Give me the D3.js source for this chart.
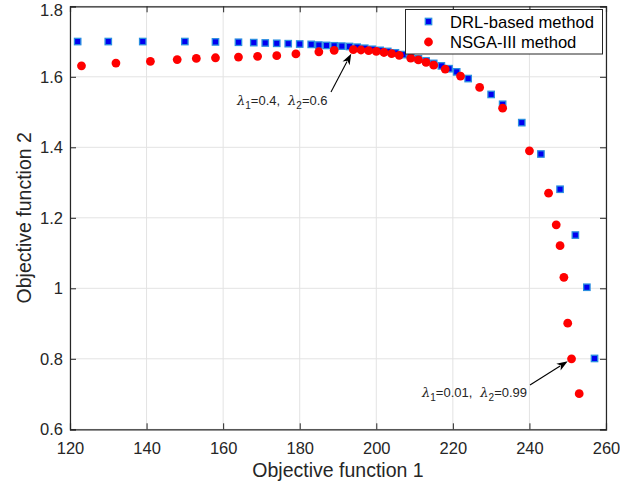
<!DOCTYPE html>
<html><head><meta charset="utf-8">
<script src="https://cdn.jsdelivr.net/npm/d3@7"></script>
<style>body{margin:0;background:#fff}svg{display:block}</style>
</head><body>
<svg id="c" width="620" height="489"></svg>
<script>
const drlX = [122,130,139,150,158,164,168,171,174,177,180,183,185,187,189,191,193,195,197,199,201,203,205,207,209,211,213,215,217,219,221,224,230,233,238,243,248,252,255,257];
const drlY = [1.700,1.700,1.700,1.700,1.699,1.698,1.697,1.696,1.695,1.694,1.693,1.692,1.690,1.689,1.688,1.687,1.686,1.684,1.681,1.678,1.675,1.672,1.668,1.663,1.657,1.651,1.645,1.638,1.631,1.623,1.614,1.595,1.550,1.522,1.470,1.381,1.281,1.151,1.003,0.801];
const nsgaX = [123,132,141,148,153,158,164,169,174,179,185,189,194,196,198,200,202,204,206,209,211,213,215,218,222,227,233,240,245,247,248,249,250,251,253];
const nsgaY = [1.631,1.639,1.644,1.649,1.652,1.654,1.656,1.658,1.660,1.665,1.671,1.675,1.677,1.676,1.674,1.672,1.669,1.666,1.661,1.653,1.648,1.641,1.633,1.622,1.602,1.570,1.511,1.390,1.270,1.180,1.121,1.031,0.901,0.800,0.701];
const xTicks = [120,140,160,180,200,220,240,260];
const yTicks = [0.6,0.8,1.0,1.2,1.4,1.6,1.8];
const seriesNames = ["DRL-based method","NSGA-III method"];
const annotations = [
  {x:194, y:1.677, l1:"0.4", l2:"0.6"},
  {x:251, y:0.800, l1:"0.01", l2:"0.99"}
];

const svg = d3.select("#c");
const L=70, R=606, T=6.3, B=429.3;
const x = d3.scaleLinear().domain([120,260]).range([L,R]);
const y = d3.scaleLinear().domain([0.6,1.8]).range([B,T]);
const font = "'Liberation Sans', Arial, Helvetica, sans-serif";
const axCol = "#262626";

// grid
const g = svg.append("g");
g.selectAll(".gx").data(xTicks).enter().append("line")
  .attr("x1",d=>x(d)).attr("x2",d=>x(d)).attr("y1",T).attr("y2",B)
  .attr("stroke","#e3e3e3").attr("stroke-width",1);
g.selectAll(".gy").data(yTicks).enter().append("line")
  .attr("y1",d=>y(d)).attr("y2",d=>y(d)).attr("x1",L).attr("x2",R)
  .attr("stroke","#e3e3e3").attr("stroke-width",1);

// axes
const fmtY = d => d===1 ? "1" : d3.format(".1f")(d);
const xAxis = svg.append("g").attr("transform",`translate(0,${B})`)
  .call(d3.axisBottom(x).tickValues(xTicks).tickSize(-6).tickPadding(13).tickFormat(d3.format("d")));
const xAxisT = svg.append("g").attr("transform",`translate(0,${T})`)
  .call(d3.axisTop(x).tickValues(xTicks).tickSize(-6).tickFormat(""));
const yAxis = svg.append("g").attr("transform",`translate(${L},0)`)
  .call(d3.axisLeft(y).tickValues(yTicks).tickSize(-6).tickPadding(7).tickFormat(fmtY));
const yAxisR = svg.append("g").attr("transform",`translate(${R},0)`)
  .call(d3.axisRight(y).tickValues(yTicks).tickSize(-6).tickFormat(""));
[xAxis,xAxisT,yAxis,yAxisR].forEach(a=>{
  a.selectAll("path").attr("stroke",axCol).attr("stroke-width",1.2);
  a.selectAll("line").attr("stroke",axCol).attr("stroke-width",1);
  a.selectAll("text").attr("fill",axCol).attr("font-size","16.5px").attr("font-family",font);
});
yAxis.selectAll("text").filter(d=>d===1.8).attr("dy","0.54em");

// labels
svg.append("text").attr("x",(L+R)/2).attr("y",477).attr("text-anchor","middle")
  .attr("font-family",font).attr("font-size","19.5px").attr("fill",axCol).text("Objective function 1");
svg.append("text").attr("transform",`translate(31,${(T+B)/2}) rotate(-90)`).attr("text-anchor","middle")
  .attr("font-family",font).attr("font-size","19.5px").attr("fill",axCol).text("Objective function 2");

// markers
const plot = svg.append("g");
plot.selectAll(".sq").data(drlX.map((d,i)=>[d,drlY[i]])).enter().append("rect")
  .attr("x",d=>x(d[0])-3.2).attr("y",d=>y(d[1])-3.2).attr("width",6.4).attr("height",6.4)
  .attr("fill","#0000f0").attr("stroke","#2a8ee0").attr("stroke-width",1.3);
plot.selectAll(".ci").data(nsgaX.map((d,i)=>[d,nsgaY[i]])).enter().append("circle")
  .attr("cx",d=>x(d[0])).attr("cy",d=>y(d[1])).attr("r",4.4)
  .attr("fill","#ff0000");

// annotations
const offs = [{tx:237,ty:105,ax:331,ay:92},{tx:422,ty:397,ax:530,ay:385}];
annotations.forEach((a,i)=>{
  const o = offs[i];
  const px = x(a.x), py = y(a.y);
  const dx = px-o.ax, dy = py-o.ay, len = Math.hypot(dx,dy);
  const ux = dx/len, uy = dy/len;
  const tipX = px - ux*4.5, tipY = py - uy*4.5;
  const hl = 11, hw = 4;
  const bx = tipX-ux*hl, by = tipY-uy*hl;
  svg.append("line").attr("x1",o.ax).attr("y1",o.ay).attr("x2",bx+ux*2).attr("y2",by+uy*2)
    .attr("stroke","#000").attr("stroke-width",1.1);
  svg.append("path").attr("d",`M${tipX},${tipY}L${bx-uy*hw},${by+ux*hw}L${bx+ux*3},${by+uy*3}L${bx+uy*hw},${by-ux*hw}Z`).attr("fill","#000");
  const t = svg.append("text").attr("x",o.tx).attr("y",o.ty).attr("font-family",font).attr("font-size","13px").attr("fill","#262626");
  t.append("tspan").attr("font-style","italic").attr("font-family","'DejaVu Serif', serif").text("λ");
  t.append("tspan").attr("font-size","10px").attr("dy",4).text("1");
  t.append("tspan").attr("dy",-4).text("="+a.l1+",");
  t.append("tspan").attr("dx",8).attr("font-style","italic").attr("font-family","'DejaVu Serif', serif").text("λ");
  t.append("tspan").attr("font-size","10px").attr("dy",4).text("2");
  t.append("tspan").attr("dy",-4).text("="+a.l2);
});

// legend
const lg = svg.append("g");
lg.append("rect").attr("x",405.5).attr("y",9.5).attr("width",197).attr("height",44.5)
  .attr("fill","#fff").attr("stroke","#262626").attr("stroke-width",1);
lg.append("rect").attr("x",425.3).attr("y",18.3).attr("width",6.4).attr("height",6.4)
  .attr("fill","#0000f0").attr("stroke","#2a8ee0").attr("stroke-width",1.3);
lg.append("circle").attr("cx",428.5).attr("cy",42).attr("r",4.4).attr("fill","#ff0000");
lg.selectAll(".lt").data(seriesNames).enter().append("text")
  .attr("x",450).attr("y",(d,i)=>27.5+i*20.5).attr("font-family",font).attr("font-size","16.6px")
  .attr("fill","#000").text(d=>d);
</script>
</body></html>
